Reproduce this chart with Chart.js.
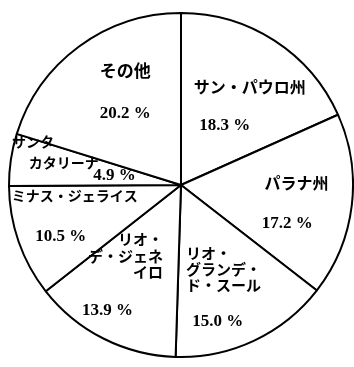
<!DOCTYPE html>
<html><head><meta charset="utf-8">
<script src="https://cdn.jsdelivr.net/npm/chart.js@4"></script>
<style>html,body{margin:0;padding:0;background:#fff}canvas{display:block}</style>
</head><body>
<canvas id="c" width="354" height="367"></canvas>
<script>
// data (clockwise from 12 o'clock)
const categories = ["サン・パウロ州", "パラナ州", "リオ・グランデ・ド・スール", "リオ・デ・ジェネイロ", "ミナス・ジェライス", "サンタカタリーナ", "その他"];
const shares = [18.3, 17.2, 15.0, 13.9, 10.5, 4.9, 20.2];
const nameLines = [["サン・パウロ州"], ["パラナ州"], ["リオ・", "グランデ・", "ド・スール"], ["リオ・", "デ・ジェネ", "イロ"], ["ミナス・ジェライス"], ["サンタ", "カタリーナ"], ["その他"]];

// label placement (style), in units of the pie radius relative to its centre
const namePos = [
  {fx: 0.399, fy: -0.572, align: "center", gap: 0, size: 16},
  {fx: 0.671, fy: -0.012, align: "center", gap: 0, size: 16},
  {fx: 0.029, fy: 0.399, align: "left", gap: 0.093, size: 15},
  {fx: -0.104, fy: 0.318, align: "right", gap: 0.095, size: 15},
  {fx: -0.618, fy: 0.064, align: "center", gap: 0, size: 14},
  {fx: -0.861, fy: -0.249, align: "center", gap: 0.12, dx: [0, 0.18], size: 14},
  {fx: -0.324, fy: -0.665, align: "center", gap: 0, size: 17}
];
const valPos = [
  {fx: 0.254, fy: -0.347}, {fx: 0.618, fy: 0.225}, {fx: 0.214, fy: 0.792},
  {fx: -0.428, fy: 0.728}, {fx: -0.699, fy: 0.301}, {fx: -0.387, fy: -0.052},
  {fx: -0.324, fy: -0.415}
];

const labelPlugin = {
  id: "labels",
  afterDatasetsDraw(chart) {
    const arc = chart.getDatasetMeta(0).data[0];
    const cx = arc.x, cy = arc.y, R = arc.outerRadius;
    const ctx = chart.ctx;
    ctx.save();
    ctx.fillStyle = "#000";
    ctx.textBaseline = "middle";
    nameLines.forEach((lines, i) => {
      const p = namePos[i];
      ctx.font = "bold " + p.size + "px 'Noto Sans CJK JP'";
      ctx.textAlign = p.align;
      lines.forEach((t, k) => {
        const ox = p.dx ? p.dx[k] : 0;
        ctx.fillText(t, cx + R * (p.fx + ox), cy + R * (p.fy + k * p.gap));
      });
      const v = valPos[i];
      ctx.font = "bold 17px 'Liberation Serif'";
      ctx.textAlign = "center";
      ctx.fillText(shares[i].toFixed(1) + " %", cx + R * v.fx, cy + R * v.fy);
    });
    ctx.restore();
  }
};

new Chart(document.getElementById("c"), {
  type: "pie",
  data: {
    labels: categories,
    datasets: [{
      data: shares,
      backgroundColor: "#ffffff",
      borderColor: "#000000",
      borderWidth: 2
    }]
  },
  options: {
    responsive: false,
    animation: false,
    layout: {padding: {left: 8, right: 0, top: 12, bottom: 9}},
    plugins: {legend: {display: false}, tooltip: {enabled: false}}
  },
  plugins: [labelPlugin]
});
</script>
</body></html>
